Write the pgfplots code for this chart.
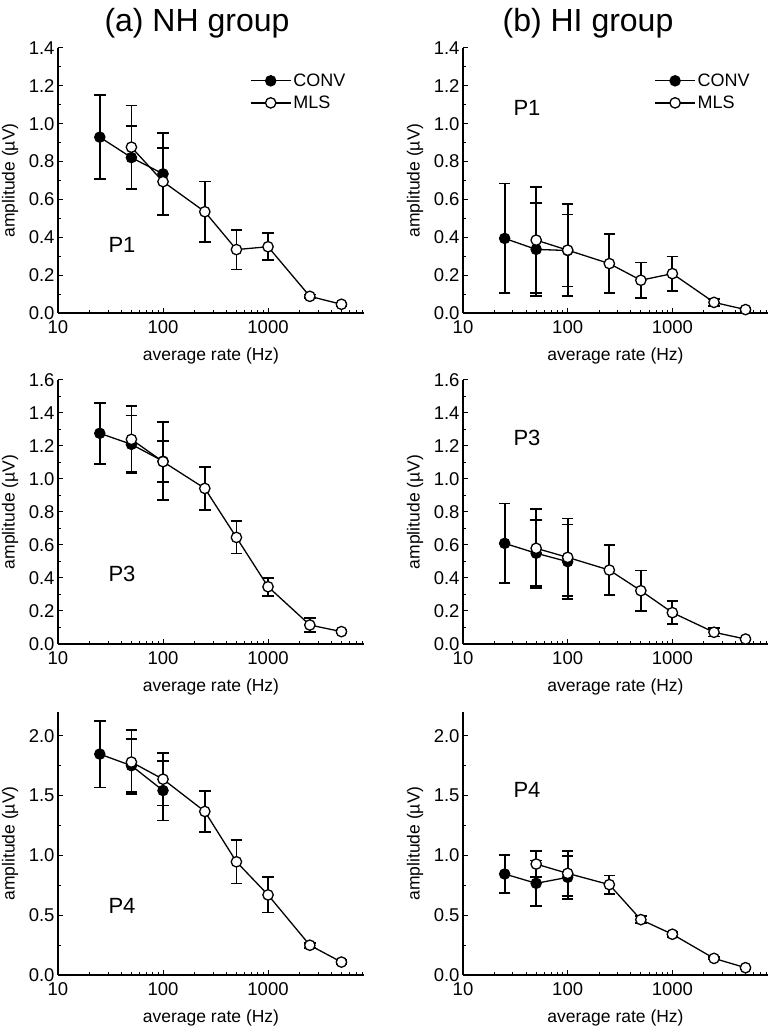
\documentclass[border=0pt]{standalone}
\usepackage{pgfplots}
\pgfplotsset{compat=1.18}
\usepackage{fontspec}
\setmainfont{Liberation Sans}
\pgfplotsset{every axis/.append style={
    scale only axis, width=306pt, height=265pt,
    xmin=10, xmax=8200, ymin=0,
    axis x line*=bottom, axis y line*=left,
    tick align=inside,
    major tick length=5pt, minor tick length=3pt,
    axis line style={line width=1.2pt},
    xtick={10,100,1000}, xticklabels={10,100,1000},
    minor xtick={20,30,40,50,60,70,80,90,200,300,400,500,600,700,800,900,2000,3000,4000,5000,6000,7000,8000},
    minor y tick num=1,
    tick label style={font=\fontsize{18.5}{20}\selectfont},
    xticklabel style={yshift=-4pt},
    xlabel={average rate (Hz)}, ylabel={amplitude (\textmu V)},
    label style={font=\fontsize{17.5}{20}\selectfont},
    x label style={at={(axis description cs:0.5,0)}, anchor=center, yshift=-43pt},
    y label style={at={(axis description cs:0,0.5)}, anchor=center, yshift=48pt},
    clip=false,
    legend image code/.code={\draw[mark repeat=2,mark phase=2,#1] plot coordinates {(0pt,0pt) (20pt,0pt) (40pt,0pt)};},
    legend style={draw=none, fill=none, at={(0.627,0.911)}, anchor=north west, inner sep=0pt, row sep=4pt,
      font=\fontsize{18}{20}\selectfont},
    legend cell align=left,
  },
  every tick/.append style={black, line width=1pt},
  /pgf/number format/assume math mode=true,
  yticklabel style={/pgf/number format/fixed, /pgf/number format/fixed zerofill, /pgf/number format/precision=1},
}
\pgfplotsset{
  rconv/.style={black, line width=1.3pt, mark=*, mark size=5.2pt, mark options={fill=black, line width=1.1pt},
    error bars/y dir=both, error bars/y explicit, error bars/error bar style={line width=1.8pt, black},
    error bars/error mark options={rotate=90, mark size=5.8pt, line width=1.8pt, black}},
  rmls/.style={black, line width=1.3pt, mark=*, mark size=5.2pt, mark options={fill=white, line width=1.3pt},
    error bars/y dir=both, error bars/y explicit, error bars/error bar style={line width=1.8pt, black},
    error bars/error mark options={rotate=90, mark size=5.8pt, line width=1.8pt, black}},
}
\begin{document}
\begin{tikzpicture}
\useasboundingbox (0pt,0pt) rectangle (771pt,1027pt);
% (a) P1
\begin{semilogxaxis}[at={(58pt,714pt)}, anchor=south west, ymax=1.4, ytick={0,0.2,...,1.4}]
\addplot[rconv] coordinates {(25,0.929) +- (0,0.223) (50,0.821) +- (0,0.168) (100,0.735) +- (0,0.215)};
\addlegendentry{CONV}
\addplot[rmls] coordinates {(50,0.876) +- (0,0.22) (100,0.694) +- (0,0.177) (250,0.535) +- (0,0.16) (500,0.335) +- (0,0.105) (1000,0.350) +- (0,0.072) (2500,0.088) +- (0,0.01) (5000,0.046) +- (0,0.008)};
\addlegendentry{MLS}
\end{semilogxaxis}
% (b) P1
\begin{semilogxaxis}[at={(463pt,714pt)}, anchor=south west, width=305pt, ymax=1.4, ytick={0,0.2,...,1.4}]
\addplot[rconv] coordinates {(25,0.394) +- (0,0.29) (50,0.336) +- (0,0.245) (100,0.33) +- (0,0.19)};
\addlegendentry{CONV}
\addplot[rmls] coordinates {(50,0.385) +- (0,0.28) (100,0.332) +- (0,0.242) (250,0.261) +- (0,0.155) (500,0.173) +- (0,0.094) (1000,0.208) +- (0,0.09) (2500,0.056) +- (0,0.02) (5000,0.018) +- (0,0.008)};
\addlegendentry{MLS}
\end{semilogxaxis}
% (a) P3
\begin{semilogxaxis}[at={(58pt,383pt)}, anchor=south west, height=264pt, ymax=1.6, ytick={0,0.2,...,1.6}]
\addplot[rconv] coordinates {(25,1.277) +- (0,0.185) (50,1.21) +- (0,0.175) (100,1.108) +- (0,0.236)};
\addplot[rmls] coordinates {(50,1.24) +- (0,0.2) (100,1.105) +- (0,0.125) (250,0.943) +- (0,0.13) (500,0.646) +- (0,0.097) (1000,0.347) +- (0,0.055) (2500,0.115) +- (0,0.042) (5000,0.075) +- (0,0.01)};
\end{semilogxaxis}
% (b) P3
\begin{semilogxaxis}[at={(463pt,383pt)}, anchor=south west, width=305pt, height=264pt, ymax=1.6, ytick={0,0.2,...,1.6}]
\addplot[rconv] coordinates {(25,0.61) +- (0,0.242) (50,0.55) +- (0,0.2) (100,0.499) +- (0,0.225)};
\addplot[rmls] coordinates {(50,0.58) +- (0,0.24) (100,0.525) +- (0,0.235) (250,0.448) +- (0,0.152) (500,0.323) +- (0,0.123) (1000,0.19) +- (0,0.071) (2500,0.071) +- (0,0.025) (5000,0.03) +- (0,0.008)};
\end{semilogxaxis}
% (a) P4
\begin{semilogxaxis}[at={(58pt,52pt)}, anchor=south west, height=263pt, ymax=2.2, ytick={0,0.5,...,2.0}]
\addplot[rconv] coordinates {(25,1.848) +- (0,0.28) (50,1.751) +- (0,0.22) (100,1.543) +- (0,0.25)};
\addplot[rmls] coordinates {(50,1.781) +- (0,0.27) (100,1.638) +- (0,0.22) (250,1.368) +- (0,0.17) (500,0.947) +- (0,0.182) (1000,0.67) +- (0,0.148) (2500,0.249) +- (0,0.02) (5000,0.108) +- (0,0.015)};
\end{semilogxaxis}
% (b) P4
\begin{semilogxaxis}[at={(463pt,52pt)}, anchor=south west, width=305pt, height=263pt, ymax=2.2, ytick={0,0.5,...,2.0}]
\addplot[rconv] coordinates {(25,0.845) +- (0,0.16) (50,0.767) +- (0,0.19) (100,0.817) +- (0,0.18)};
\addplot[rmls] coordinates {(50,0.928) +- (0,0.11) (100,0.85) +- (0,0.19) (250,0.756) +- (0,0.076) (500,0.463) +- (0,0.03) (1000,0.341) +- (0,0.02) (2500,0.139) +- (0,0.01) (5000,0.061) +- (0,0.01)};
\end{semilogxaxis}
% titles and panel labels
\node[font=\fontsize{32}{38}\selectfont] at (197pt,1004pt) {(a) NH group};
\node[font=\fontsize{32}{38}\selectfont] at (588pt,1004pt) {(b) HI group};
\node[font=\fontsize{22}{26}\selectfont] at (122pt,782pt) {P1};
\node[font=\fontsize{22}{26}\selectfont] at (527pt,919pt) {P1};
\node[font=\fontsize{22}{26}\selectfont] at (122pt,453pt) {P3};
\node[font=\fontsize{22}{26}\selectfont] at (527pt,589pt) {P3};
\node[font=\fontsize{22}{26}\selectfont] at (122pt,121pt) {P4};
\node[font=\fontsize{22}{26}\selectfont] at (527pt,237pt) {P4};
\end{tikzpicture}
\end{document}
